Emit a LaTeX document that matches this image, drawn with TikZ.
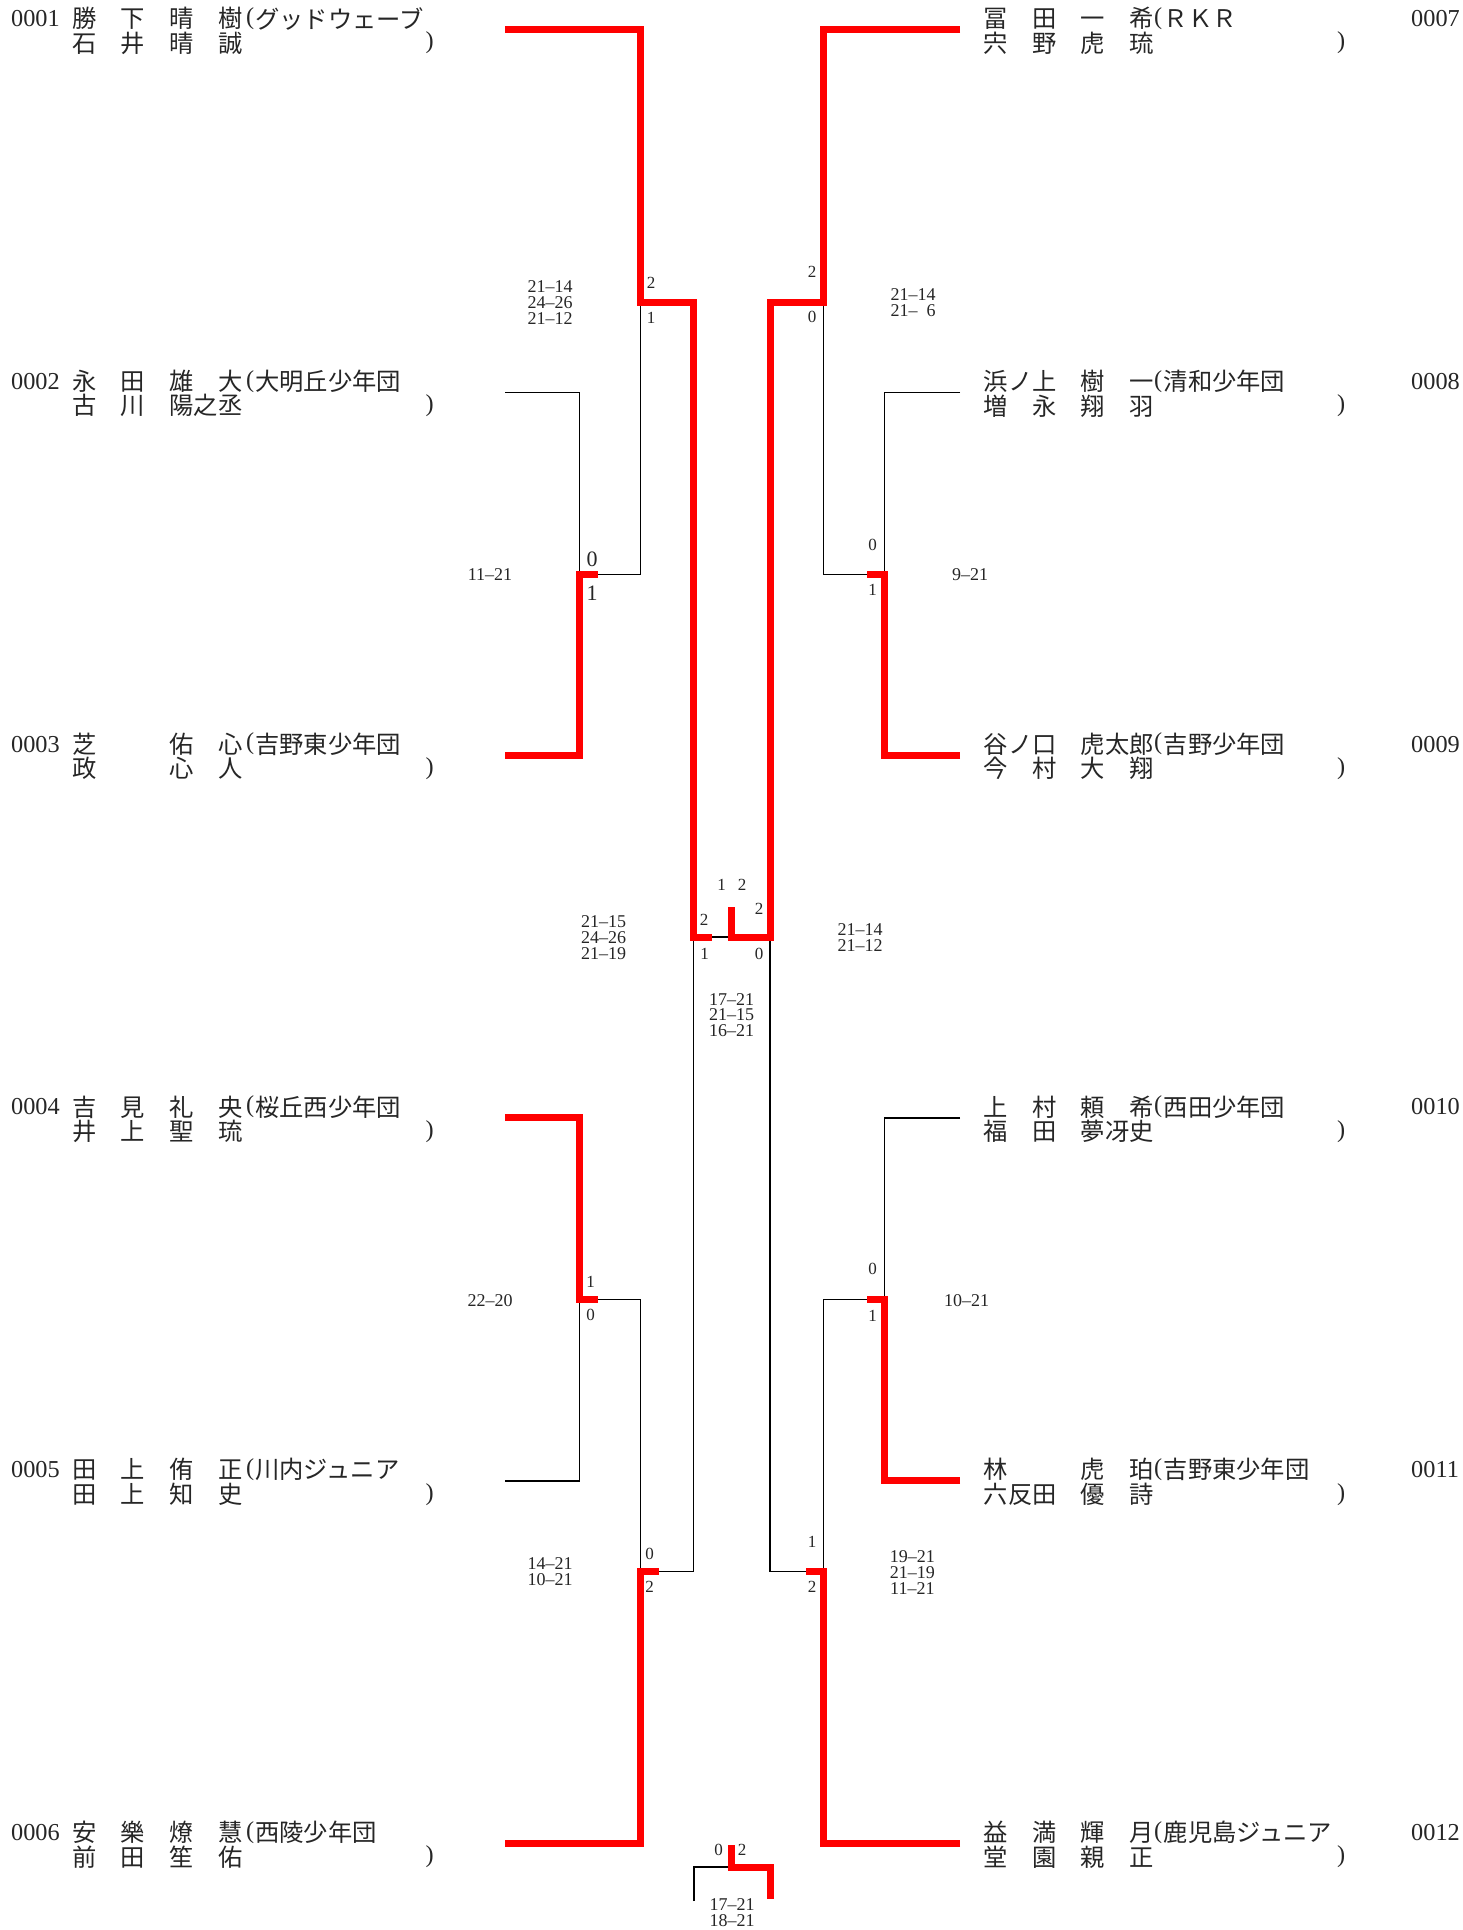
\documentclass[tikz,border=0pt]{standalone}
\usepackage{fontspec}
\setmainfont{Liberation Serif}
\newfontfamily\cjk{Noto Sans CJK JP}
\newcommand\dsh{\makebox[0.5em]{\textendash}}
\tikzset{
  redln/.style={draw=red, line width=7pt, line join=miter, line cap=butt},
  blkln/.style={draw=black, line width=1.6pt, line join=miter},
  namebox/.style={anchor=west, inner sep=0pt, text=black!85, font=\cjk\fontsize{24.3}{24.3}\selectfont},
  parbox/.style={anchor=west, inner sep=0pt, text=black!85, font=\fontsize{24.3}{24.3}\selectfont},
  entnum/.style={anchor=west, inner sep=0pt, text=black!85, font=\fontsize{24.3}{24.3}\selectfont},
  scorebox/.style={inner sep=0pt, text=black!85, font=\fontsize{18}{18}\selectfont},
  lbl/.style={inner sep=0pt, text=black!85, font=\fontsize{17}{17}\selectfont},
  lblbig/.style={inner sep=0pt, text=black!85, font=\fontsize{22}{22}\selectfont},
}
\newcommand\entL[6]{%
  \node[entnum] (no#1) at (11,#2-11) {#3};
  \node[namebox] (na#1) at (72,#2-11) {#4};
  \node[parbox] (op#1) at (246,#2-11) {(};
  \node[namebox] (tm#1) at (255,#2-11) {#5};
  \node[namebox] (nb#1) at (72,#2+13.5) {#6};
  \node[parbox] (cp#1) at (425.5,#2+13.5) {)};}
\newcommand\entR[6]{%
  \node[entnum] (no#1) at (1411,#2-11) {#3};
  \node[namebox] (na#1) at (983.5,#2-11) {#4};
  \node[parbox] (op#1) at (1154,#2-11) {(};
  \node[namebox] (tm#1) at (1163.5,#2-11) {#5};
  \node[namebox] (nb#1) at (983.5,#2+13.5) {#6};
  \node[parbox] (cp#1) at (1337,#2+13.5) {)};}
\begin{document}
\begin{tikzpicture}[x=1pt,y=-1pt]
\useasboundingbox (0,0) rectangle (1463,1930);
\fill[white] (0,0) rectangle (1463,1930);
% entry line starts
\coordinate (e1) at (505,29.5);
\coordinate (e2) at (505,392.3);
\coordinate (e3) at (505,755.1);
\coordinate (e4) at (505,1117.9);
\coordinate (e5) at (505,1480.7);
\coordinate (e6) at (505,1843.5);
\coordinate (e7) at (960,29.5);
\coordinate (e8) at (960,392.3);
\coordinate (e9) at (960,755.1);
\coordinate (e10) at (960,1117.9);
\coordinate (e11) at (960,1480.7);
\coordinate (e12) at (960,1843.5);
% left junctions
\coordinate (j23) at (579.5,574.3);
\coordinate (s23) at (598,574.3);
\coordinate (j1) at (640.5,302);
\coordinate (j45) at (579.5,1299.3);
\coordinate (s45) at (598,1299.3);
\coordinate (j6) at (640.5,1571.4);
\coordinate (s6) at (658.5,1571.4);
\coordinate (jsL) at (693.3,937);
\coordinate (sL) at (711.5,937);
% final
\coordinate (fin) at (731.5,937);
\coordinate (champ) at (731.5,907);
% right junctions
\coordinate (j89) at (884.3,574.3);
\coordinate (s89) at (866.5,574.3);
\coordinate (j7) at (823.3,302);
\coordinate (j1011) at (884.3,1299.3);
\coordinate (s1011) at (866.5,1299.3);
\coordinate (j12) at (823.3,1571.4);
\coordinate (s12) at (805.5,1571.4);
\coordinate (jsR) at (770,937);
% bottom match
\coordinate (bL) at (694,1901);
\coordinate (bJ) at (731.5,1867);
\coordinate (bR) at (770,1899);
\coordinate (bC) at (731.5,1845);

% black lines
\draw[blkln] (e2) -| (j23);
\draw[blkln] (s23) -| (j1);
\draw[blkln] (e5) -| (j45);
\draw[blkln] (s45) -| (j6);
\draw[blkln] (s6) -| (jsL);
\draw[blkln] (sL) -- (fin);
\draw[blkln] (e8) -| (j89);
\draw[blkln] (s89) -| (j7);
\draw[blkln] (e10) -| (j1011);
\draw[blkln] (s1011) -| (j12);
\draw[blkln] (s12) -| (jsR);
\draw[blkln] (bL) |- (bJ);
% red lines
\draw[redln] (e1) -| (j1) -| (jsL) -- (sL);
\draw[redln] (e3) -| (j23) -- (s23);
\draw[redln] (e4) -| (j45) -- (s45);
\draw[redln] (e6) -| (j6) -- (s6);
\draw[redln] (e7) -| (j7) -| (jsR) -- (fin) -- (champ);
\draw[redln] (e9) -| (j89) -- (s89);
\draw[redln] (e11) -| (j1011) -- (s1011);
\draw[redln] (e12) -| (j12) -- (s12);
\draw[redln] (bC) -- (bJ) -| (bR);

% match labels left
\node[lbl] (la1) at (651,283) {2};
\node[lbl] (la2) at (651,318) {1};
\node[lblbig] (lb1) at (592,559.5) {0};
\node[lblbig] (lb2) at (592,593.5) {1};
\node[lbl] (lc1) at (590.6,1282) {1};
\node[lbl] (lc2) at (590.6,1315.4) {0};
\node[lbl] (ld1) at (649.7,1554) {0};
\node[lbl] (ld2) at (649.7,1587.3) {2};
\node[lbl] (le1) at (704,920) {2};
\node[lbl] (le2) at (704.5,953.5) {1};
% match labels right
\node[lbl] (ra1) at (812,272) {2};
\node[lbl] (ra2) at (812,317) {0};
\node[lbl] (rb1) at (872.5,545) {0};
\node[lbl] (rb2) at (872.5,590) {1};
\node[lbl] (rc1) at (872.5,1268.6) {0};
\node[lbl] (rc2) at (872.5,1315.4) {1};
\node[lbl] (rd1) at (812,1541.8) {1};
\node[lbl] (rd2) at (812,1587.3) {2};
\node[lbl] (re1) at (759,908.5) {2};
\node[lbl] (re2) at (759,953.5) {0};
% final and bottom labels
\node[lbl] (fa1) at (721.5,885) {1};
\node[lbl] (fa2) at (742,885) {2};
\node[lbl] (ba1) at (718.6,1849.5) {0};
\node[lbl] (ba2) at (742,1849.5) {2};

% scores left
\node[scorebox] (sa1) at (550,286.7) {21\dsh14};
\node[scorebox] (sa2) at (550,302.7) {24\dsh26};
\node[scorebox] (sa3) at (550,318.3) {21\dsh12};
\node[scorebox] (sb1) at (490,575) {11\dsh21};
\node[scorebox] (sc1) at (490,1300.6) {22\dsh20};
\node[scorebox] (sd1) at (550,1564) {14\dsh21};
\node[scorebox] (sd2) at (550,1580) {10\dsh21};
\node[scorebox] (se1) at (603.5,921.7) {21\dsh15};
\node[scorebox] (se2) at (603.5,937.7) {24\dsh26};
\node[scorebox] (se3) at (603.5,953.3) {21\dsh19};
% scores right
\node[scorebox] (ta1) at (913,294.5) {21\dsh14};
\node[scorebox] (ta2) at (913,311) {21\dsh\hspace{0.5em}6};
\node[scorebox] (tb1) at (970,575) {9\dsh21};
\node[scorebox] (tc1) at (966.5,1300.6) {10\dsh21};
\node[scorebox] (td1) at (912.4,1556.6) {19\dsh21};
\node[scorebox] (td2) at (912.4,1572.6) {21\dsh19};
\node[scorebox] (td3) at (912.4,1588.6) {11\dsh21};
\node[scorebox] (te1) at (860,930) {21\dsh14};
\node[scorebox] (te2) at (860,946) {21\dsh12};
% final and bottom scores
\node[scorebox] (fs1) at (731.5,999.5) {17\dsh21};
\node[scorebox] (fs2) at (731.5,1015) {21\dsh15};
\node[scorebox] (fs3) at (731.5,1030.7) {16\dsh21};
\node[scorebox] (bs1) at (732,1905) {17\dsh21};
\node[scorebox] (bs2) at (732,1921) {18\dsh21};

% entries
\entL{1}{29.5}{0001}{勝　下　晴　樹}{グッドウェーブ}{石　井　晴　誠}
\entL{2}{392.3}{0002}{永　田　雄　大}{大明丘少年団}{古　川　陽之丞}
\entL{3}{755.1}{0003}{芝　　　佑　心}{吉野東少年団}{政　　　心　人}
\entL{4}{1117.9}{0004}{吉　見　礼　央}{桜丘西少年団}{井　上　聖　琉}
\entL{5}{1480.7}{0005}{田　上　侑　正}{川内ジュニア}{田　上　知　史}
\entL{6}{1843.5}{0006}{安　樂　燎　慧}{西陵少年団}{前　田　笙　佑}
\entR{7}{29.5}{0007}{冨　田　一　希}{ＲＫＲ}{宍　野　虎　琉}
\entR{8}{392.3}{0008}{浜ノ上　樹　一}{清和少年団}{増　永　翔　羽}
\entR{9}{755.1}{0009}{谷ノ口　虎太郎}{吉野少年団}{今　村　大　翔}
\entR{10}{1117.9}{0010}{上　村　頼　希}{西田少年団}{福　田　夢冴史}
\entR{11}{1480.7}{0011}{林　　　虎　珀}{吉野東少年団}{六反田　優　詩}
\entR{12}{1843.5}{0012}{益　満　輝　月}{鹿児島ジュニア}{堂　園　親　正}
\end{tikzpicture}
\end{document}
